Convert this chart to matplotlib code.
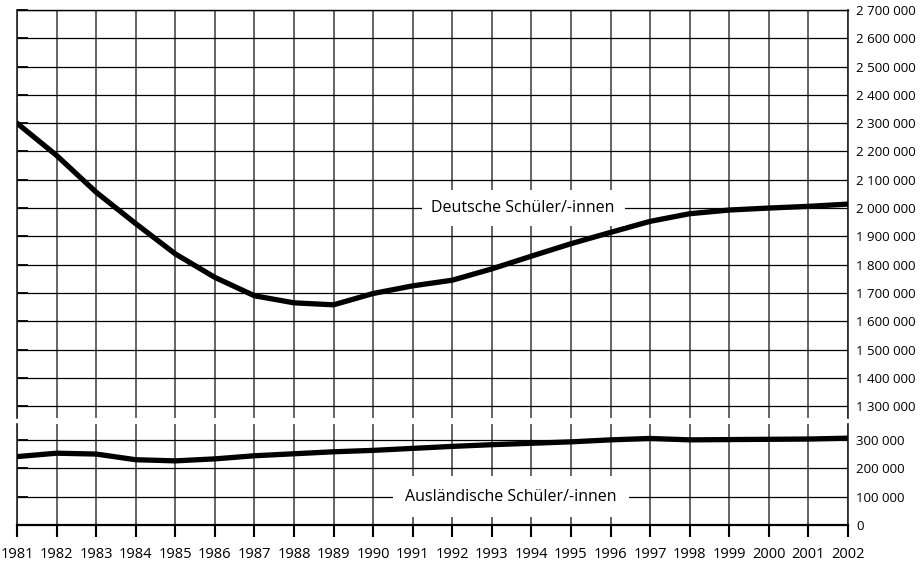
import matplotlib.pyplot as plt
from matplotlib.ticker import FixedLocator, FuncFormatter

plt.rcParams['font.family'] = ['Open Sans', 'DejaVu Sans']

# Schuljahre 1981 bis 2002
years = list(range(1981, 2003))

# Deutsche Schüler/-innen
deutsche = [2300000, 2186000, 2056000, 1945000, 1838000, 1755000, 1690000,
            1665000, 1658000, 1698000, 1725000, 1745000, 1785000, 1830000,
            1874000, 1914000, 1953000, 1980000, 1993000, 2000000, 2006000,
            2014000]

# Ausländische Schüler/-innen
auslaendische = [241000, 253000, 250000, 230000, 226000, 233000, 244000,
                 251000, 258000, 263000, 270000, 277000, 283000, 288000,
                 293000, 300000, 305000, 300000, 301000, 302000, 303000,
                 306000]

top_ticks = list(range(1300000, 2700001, 100000))
bottom_ticks = [0, 100000, 200000, 300000]


def fmt(v, pos=None):
    return f"{int(v):,}".replace(",", " ")


fig = plt.figure(figsize=(9.24, 5.65), dpi=100)
ax1 = fig.add_axes([0.0184, 0.2602, 0.8993, 0.7221])
ax2 = fig.add_axes([0.0184, 0.0708, 0.8993, 0.1788])

for ax, ticks in ((ax1, top_ticks), (ax2, bottom_ticks)):
    ax.set_xlim(1981, 2002)
    ax.xaxis.set_major_locator(FixedLocator(years))
    ax.yaxis.set_major_locator(FixedLocator(ticks))
    ax.yaxis.set_major_formatter(FuncFormatter(fmt))
    ax.grid(axis='y', color='black', lw=0.9)
    ax.grid(axis='x', color='#3a3a3a', lw=1.1)
    ax.set_axisbelow(True)
    ax.tick_params(axis='y', direction='in', length=8, width=1.3,
                   left=True, right=False, labelleft=False, labelright=True,
                   pad=6, labelsize=9.5)
    for s in ('left', 'right'):
        ax.spines[s].set_color('#222222')
        ax.spines[s].set_linewidth(1.2)

ax1.set_ylim(1258000, 2700000)
ax1.spines['bottom'].set_visible(False)
ax1.spines['top'].set_linewidth(1.0)
ax1.tick_params(axis='x', bottom=False, labelbottom=False)
ax1.plot(years, deutsche, color='black', lw=3.8, solid_joinstyle='round',
         solid_capstyle='round', zorder=3)

ax2.set_ylim(0, 356000)
ax2.spines['top'].set_visible(False)
ax2.spines['bottom'].set_linewidth(1.6)
ax2.tick_params(axis='x', direction='out', length=8.5, width=1.5, pad=7,
                labelsize=10.5)
ax2.plot(years, auslaendische, color='black', lw=3.8, solid_joinstyle='round',
         solid_capstyle='round', zorder=3)

ax1.text(1993.79, 2000000, 'Deutsche Schüler/-innen', ha='center', va='center',
         fontsize=11.5, zorder=4,
         bbox=dict(facecolor='white', edgecolor='none', pad=7))
ax2.text(1993.48, 100000, 'Ausländische Schüler/-innen', ha='center', va='center',
         fontsize=11.5, zorder=4,
         bbox=dict(facecolor='white', edgecolor='none', pad=9))

fig.savefig('out.png', dpi=100)
